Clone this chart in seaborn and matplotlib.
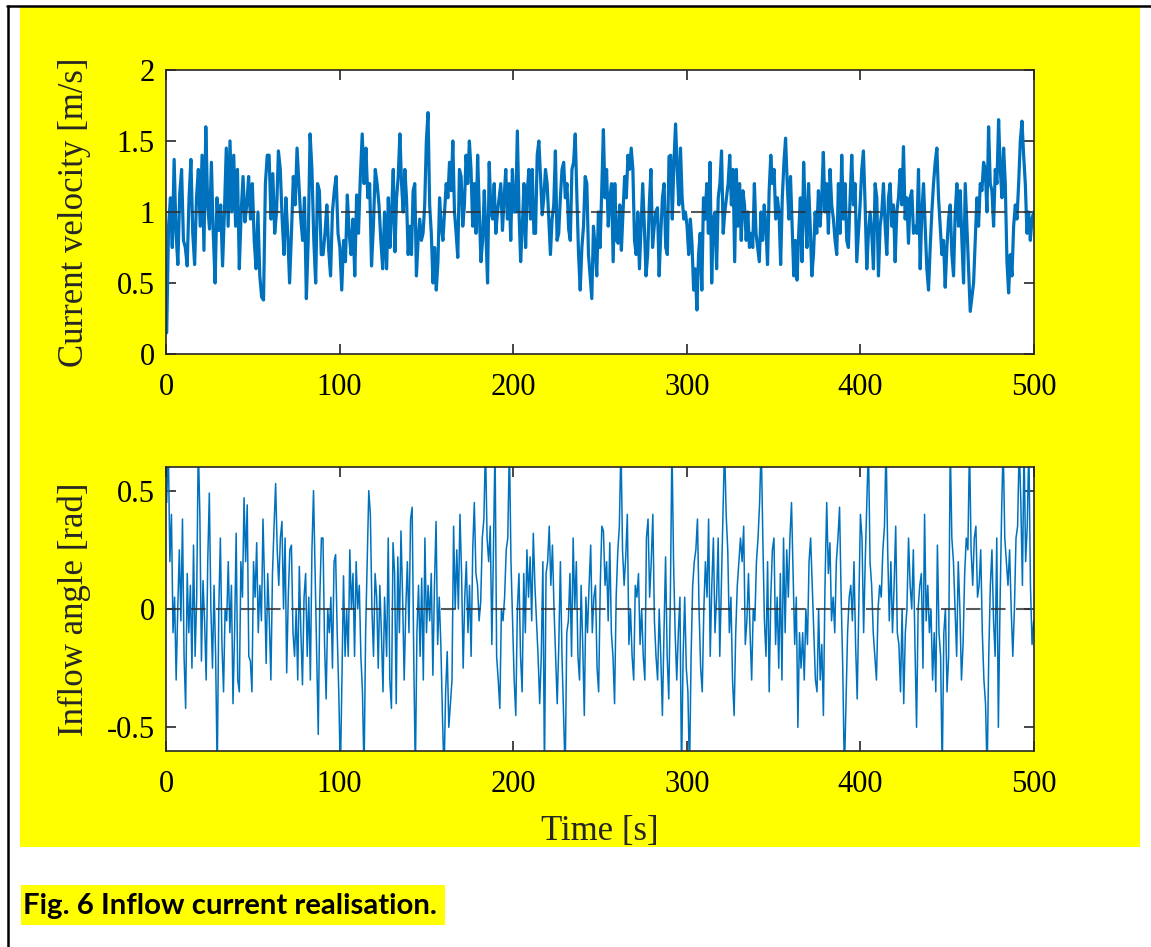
import numpy as np
import pandas as pd
import matplotlib
matplotlib.use("Agg")
import matplotlib.pyplot as plt
import seaborn as sns
from matplotlib.patches import Rectangle
from matplotlib.lines import Line2D

# ---------------- data ----------------
# Current velocity [m/s], four consecutive segments
speed_seg1 = [0.15, 0.9, 1.1, 0.75, 1.37, 0.85, 0.63, 1.13, 1.3, 0.8, 0.75, 0.62, 1.1, 1.37, 0.85, 0.63, 1.1, 1.3, 0.9, 1.4,
              0.73, 1.6, 1.05, 0.88, 1.35, 0.85, 0.5, 1.1, 0.87, 1.05, 0.62, 1.0, 1.45, 0.9, 1.5, 1.0, 1.4, 0.9, 1.3, 0.6,
              1.0, 1.25, 0.93, 1.05, 1.25, 0.95, 1.2, 0.8, 0.6, 1.0, 0.55, 0.4, 0.38, 1.2, 1.4, 1.4, 0.95, 1.27, 0.85, 1.0,
              1.43, 1.3, 0.95, 0.7, 1.1, 0.85, 0.5, 0.85, 1.25, 1.05, 1.45, 1.2, 0.95, 0.8, 1.1, 0.39, 0.8, 1.55, 1.3, 0.8,
              0.5, 1.2, 1.15, 0.7, 0.7, 0.85, 1.05, 0.73, 0.55, 1.0, 1.15, 1.25, 0.85, 0.75, 0.45, 0.8, 0.65, 1.12, 0.85, 0.7,
              0.95, 0.55, 1.12, 0.85, 1.25, 1.55, 1.2, 1.45, 1.1, 1.2, 0.62, 0.9, 1.3, 1.2, 1.05, 0.8, 0.6, 1.0]
speed_seg2 = [0.6, 1.1, 0.75, 1.0, 1.3, 0.72, 1.1, 1.25, 1.55, 1.2, 1.0, 1.3, 1.1, 0.7, 0.9, 0.7, 1.15, 1.2, 0.55, 0.8,
              0.95, 0.8, 0.85, 1.05, 1.5, 1.7, 1.05, 0.85, 0.5, 0.75, 0.45, 0.65, 1.1, 0.9, 0.8, 1.0, 1.2, 1.1, 1.35, 1.15,
              1.5, 1.0, 0.85, 0.68, 1.3, 1.25, 0.9, 1.05, 1.4, 1.2, 1.5, 1.3, 0.9, 1.2, 0.85, 1.4, 1.0, 0.65, 0.8, 1.15,
              0.85, 0.5, 1.35, 1.0, 0.95, 1.2, 0.85, 1.0, 1.1, 1.2, 0.87, 1.1, 1.3, 0.95, 1.2, 0.8, 1.3, 1.0, 1.0, 1.57,
              1.0, 0.65, 0.9, 1.2, 0.75, 1.15, 1.3, 0.95, 1.3, 0.85, 0.85, 1.4, 1.5, 1.25, 0.98, 1.1, 1.3, 1.2, 0.95, 0.7,
              0.95, 1.05, 1.43, 0.8, 0.85, 1.1, 1.3, 1.35, 1.1, 1.2, 0.88, 0.8, 1.3, 1.35, 1.55, 1.1, 0.7, 0.45, 0.75, 0.9,
              1.25, 1.2, 0.7, 0.55, 0.39, 0.9, 0.75, 0.55, 1.0, 0.75, 1.15, 1.58, 1.1]
speed_seg3 = [1.3, 0.9, 1.1, 1.2, 0.65, 1.2, 0.8, 0.78, 1.05, 0.73, 1.0, 1.25, 1.1, 1.4, 1.3, 1.45, 1.3, 0.8, 0.7, 1.0,
              0.6, 0.9, 1.2, 0.9, 0.55, 0.7, 1.05, 1.3, 0.75, 0.9, 1.0, 1.03, 0.55, 0.85, 1.1, 1.2, 0.75, 0.7, 1.39, 1.4,
              0.95, 1.35, 1.62, 1.3, 1.05, 1.45, 1.1, 0.95, 1.0, 0.9, 0.7, 0.95, 0.78, 0.45, 0.6, 0.31, 0.7, 0.85, 0.45, 1.1,
              0.95, 1.2, 0.85, 1.35, 0.5, 0.95, 1.0, 0.6, 1.1, 1.2, 1.43, 0.85, 1.0, 1.1, 1.2, 1.4, 1.05, 1.3, 0.65, 1.3,
              0.9, 1.2, 0.8, 1.15, 1.05, 0.8, 1.0, 0.75, 0.85, 0.75, 1.2, 0.85, 0.75, 0.65, 1.0, 0.8, 1.05, 0.9, 0.63, 1.15,
              1.4, 1.2, 1.3, 0.95, 1.1, 1.0, 0.63, 1.1, 1.35, 1.52, 1.2, 0.95, 1.25, 0.9, 0.55, 0.8, 0.52, 0.85, 1.1, 0.65,
              1.35, 1.0, 0.75, 1.2, 0.9, 0.55, 0.7, 1.0, 0.85, 1.15, 0.9, 1.1, 1.42, 1.0]
speed_seg4 = [1.2, 0.85, 1.3, 1.05, 0.95, 0.8, 0.7, 1.2, 0.85, 1.4, 0.95, 1.2, 0.8, 0.75, 1.1, 1.4, 1.05, 1.2, 0.65, 0.85,
              1.05, 1.3, 1.43, 1.05, 0.6, 0.85, 1.0, 0.85, 0.6, 1.2, 1.1, 0.55, 0.9, 1.0, 1.2, 0.9, 0.7, 1.1, 1.2, 0.9,
              1.05, 0.65, 1.0, 1.1, 1.3, 1.05, 1.46, 0.95, 1.1, 0.78, 1.1, 1.15, 0.85, 0.9, 0.85, 1.3, 0.6, 1.0, 1.2, 0.9,
              0.6, 0.45, 0.75, 1.0, 1.2, 1.35, 1.45, 1.1, 0.9, 0.7, 0.8, 0.47, 0.75, 0.95, 1.05, 0.7, 0.55, 1.0, 1.2, 0.9,
              1.15, 0.8, 0.5, 1.2, 0.9, 0.6, 0.3, 0.4, 0.5, 0.8, 1.1, 0.9, 1.2, 1.15, 1.35, 1.3, 1.0, 1.6, 1.2, 1.15,
              0.9, 1.3, 1.2, 1.65, 1.3, 1.1, 1.45, 1.2, 0.65, 0.43, 0.7, 0.55, 0.9, 1.05, 0.95, 1.2, 1.5, 1.64, 1.4, 1.2,
              0.85, 1.0, 0.8, 0.95, 1.0]

# Inflow angle [rad], four consecutive segments (spikes beyond the axis are cut off by the axes)
angle_seg1 = [0.45, 0.7, 0.2, 0.4, -0.1, 0.05, -0.3, 0.0, 0.25, -0.05, 0.38, -0.2, -0.42, 0.15, -0.1, 0.1, -0.25, 0.27, -0.2, 0.05,
              0.7, 0.4, -0.22, 0.12, -0.05, -0.3, 0.2, 0.49, 0.0, -0.25, 0.1, -0.2, -0.7, 0.0, 0.3, -0.15, -0.35, 0.0, -0.05, 0.2,
              -0.1, 0.1, -0.4, -0.1, 0.32, -0.3, -0.35, 0.2, 0.05, 0.47, 0.2, 0.44, -0.2, -0.22, -0.35, 0.2, 0.05, 0.28, -0.1, 0.1,
              -0.05, 0.38, 0.1, -0.23, 0.15, -0.05, -0.3, 0.15, 0.35, 0.53, 0.25, 0.1, 0.3, 0.37, 0.0, 0.3, -0.27, 0.05, 0.25, 0.27,
              -0.1, -0.2, 0.0, -0.3, 0.18, -0.1, -0.32, 0.05, 0.15, -0.2, 0.05, -0.3, 0.25, 0.5, 0.15, -0.2, -0.53, 0.05, 0.3, 0.3,
              -0.15, -0.38, 0.0, -0.1, 0.05, -0.25, 0.2, 0.23, -0.1, -0.35, -0.7, -0.3, 0.14, -0.2, 0.0, -0.2, 0.25, 0.0, 0.15, -0.2,
              0.2, 0.0, 0.1, -0.2, -0.35, -0.7, -0.1, 0.2, 0.5, 0.4, 0.0, -0.2, 0.15, 0.05, -0.25, 0.1, -0.1, -0.35, 0.05]
angle_seg2 = [-0.2, 0.3, -0.3, -0.42, 0.28, 0.15, -0.4, 0.22, -0.1, 0.33, 0.05, -0.3, 0.0, 0.2, -0.1, 0.38, 0.43, -0.2, -0.7, -0.1,
              0.1, -0.2, 0.13, -0.3, 0.3, -0.1, 0.1, -0.05, 0.15, -0.28, 0.1, 0.37, -0.15, 0.05, -0.15, -0.45, -0.7, -0.35, -0.18, -0.5,
              -0.4, -0.3, 0.35, 0.0, 0.25, 0.0, 0.4, 0.15, -0.25, 0.05, 0.2, -0.1, 0.1, -0.2, 0.25, 0.45, 0.15, 0.1, -0.05, 0.03,
              0.3, 0.38, 0.7, 0.3, 0.2, 0.35, -0.15, 0.25, 0.7, -0.2, -0.3, -0.42, 0.0, -0.05, 0.05, 0.25, 0.3, 0.7, 0.2, -0.05,
              -0.3, -0.45, 0.0, 0.15, -0.2, -0.35, 0.15, -0.1, 0.25, 0.05, 0.22, -0.05, 0.32, 0.1, -0.05, -0.2, -0.4, -0.2, 0.2, -0.7,
              0.15, 0.2, 0.35, 0.1, 0.27, 0.0, -0.2, -0.4, -0.15, 0.2, -0.2, -0.45, -0.7, -0.1, -0.05, 0.15, -0.2, 0.3, 0.0, 0.2,
              -0.2, -0.3, 0.1, -0.15, -0.45, 0.05, -0.1, 0.1, 0.27, -0.1, 0.05, 0.1, -0.25, -0.35, 0.1, 0.35, 0.33, 0.1]
angle_seg3 = [0.2, -0.05, 0.28, -0.1, -0.2, -0.4, 0.05, 0.24, 0.35, 0.7, 0.25, 0.1, 0.22, 0.4, -0.15, 0.0, -0.2, -0.3, 0.1, 0.05,
              0.15, -0.15, 0.0, -0.2, -0.3, 0.3, 0.38, 0.05, 0.2, 0.4, -0.05, -0.2, -0.3, 0.0, -0.2, -0.45, -0.1, 0.22, -0.2, -0.38,
              0.05, 0.7, 0.2, -0.1, -0.3, -0.1, 0.05, -0.7, -0.2, 0.05, -0.25, -0.35, -0.7, -0.2, 0.1, 0.2, 0.25, 0.38, 0.0, -0.25,
              -0.35, 0.0, 0.2, 0.05, 0.38, -0.2, 0.1, 0.3, -0.1, 0.05, 0.3, -0.2, 0.1, 0.4, 0.7, 0.4, 0.25, -0.1, 0.05, -0.3,
              -0.45, -0.1, 0.1, 0.2, 0.3, 0.2, 0.35, -0.15, -0.05, 0.15, -0.1, -0.3, 0.0, -0.05, 0.2, 0.3, 0.45, 0.7, 0.3, -0.05,
              -0.2, 0.2, -0.35, 0.05, 0.25, 0.3, -0.15, 0.05, -0.25, 0.15, -0.3, 0.3, -0.1, 0.25, 0.05, 0.3, 0.45, 0.15, -0.15, 0.05,
              -0.5, -0.1, -0.25, -0.1, -0.3, 0.0, -0.15, 0.2, 0.3, 0.1, -0.1, -0.3, -0.35, 0.0, -0.3, -0.15, -0.45, 0.1]
angle_seg4 = [0.45, 0.15, 0.28, -0.05, 0.05, -0.1, 0.2, 0.3, 0.43, 0.05, -0.25, -0.7, -0.4, -0.1, 0.05, 0.1, -0.05, 0.2, -0.15, -0.38,
              0.0, 0.4, 0.3, -0.1, 0.2, 0.45, 0.7, 0.2, 0.1, -0.1, -0.2, -0.3, 0.0, 0.1, 0.05, 0.25, 0.35, 0.7, 0.25, -0.05,
              0.2, -0.1, 0.1, 0.35, -0.1, -0.15, -0.35, 0.0, -0.4, -0.1, 0.0, 0.3, 0.1, 0.0, 0.25, -0.15, -0.5, 0.0, 0.1, 0.15,
              -0.25, 0.4, -0.05, 0.1, -0.1, 0.0, -0.3, -0.1, -0.35, 0.27, -0.1, -0.2, -0.7, -0.1, 0.0, -0.35, -0.2, 0.7, 0.3, 0.2,
              0.0, -0.2, 0.2, 0.0, -0.3, -0.15, 0.15, 0.3, 0.25, 0.7, 0.25, 0.1, 0.3, 0.35, 0.05, 0.1, 0.25, -0.1, -0.3, -0.4,
              -0.7, -0.2, 0.1, 0.25, -0.05, -0.2, 0.3, -0.5, 0.0, 0.4, 0.7, 0.3, 0.2, 0.1, 0.25, 0.0, -0.2, 0.0, 0.3, 0.35,
              0.7, 0.45, 0.1, 0.7, 0.2, 0.35, 0.7, 0.1, -0.15, -0.05]

# time span [s] covered by each segment
seg_spans = [(0.4, 125.9), (127.1, 252.9), (253.8, 379.6), (380.6, 499.8)]

speed_mean = 1.0
angle_mean = 0.0

x_ticks = [0, 100, 200, 300, 400, 500]
speed_ticks = [0, 0.5, 1, 1.5, 2]
speed_ticklabels = ["0", "0.5", "1", "1.5", "2"]
angle_ticks = [-0.5, 0, 0.5]
angle_ticklabels = ["-0.5", "0", "0.5"]

speed_label = "Current velocity [m/s]"
angle_label = "Inflow angle [rad]"
time_label = "Time [s]"
caption = "Fig. 6 Inflow current realisation."


def build(segs):
    ts, vs = [], []
    for (a, b), seg in zip(seg_spans, segs):
        ts.append(np.linspace(a, b, len(seg)))
        vs.append(np.asarray(seg, dtype=float))
    return pd.DataFrame({"t": np.concatenate(ts), "v": np.concatenate(vs)})


speed_df = build([speed_seg1, speed_seg2, speed_seg3, speed_seg4])
angle_df = build([angle_seg1, angle_seg2, angle_seg3, angle_seg4])

# ---------------- style ----------------
sns.set_style("ticks")
plt.rcParams["font.family"] = ["Liberation Serif", "DejaVu Serif"]
plt.rcParams["axes.unicode_minus"] = False

W, H = 1151, 947
fig = plt.figure(figsize=(W / 100, H / 100), dpi=100)
fig.patch.set_facecolor("white")

# yellow background panel and page border
fig.add_artist(Rectangle((20 / W, 1 - 847 / H), 1120 / W, 840 / H, transform=fig.transFigure,
                         facecolor="#FFFF00", edgecolor="none", zorder=0))
fig.add_artist(Line2D([7 / W, 1], [1 - 6 / H, 1 - 6 / H], transform=fig.transFigure, color="black", lw=1.8))
fig.add_artist(Line2D([8 / W, 8 / W], [0, 1 - 6 / H], transform=fig.transFigure, color="black", lw=1.8))

BLUE = "#0072BD"
AX = "#262626"


def style_axes(ax):
    ax.set_facecolor("white")
    for s in ax.spines.values():
        s.set_color(AX)
        s.set_linewidth(1.2)
        s.set_visible(True)
    ax.tick_params(direction="in", length=7, width=1.2, colors=AX, labelcolor="black",
                   top=True, right=True, labelsize=22, pad=8)
    ax.tick_params(axis="x", pad=14)
    ax.set_xlim(0, 500)
    ax.set_xticks(x_ticks)
    ax.set_xticklabels([str(v) for v in x_ticks])


# top panel
ax1 = fig.add_axes([166 / W, 1 - 354 / H, 868 / W, 284 / H])
sns.lineplot(data=speed_df, x="t", y="v", ax=ax1, color=BLUE, linewidth=2.3,
             estimator=None, sort=False)
ax1.axhline(speed_mean, color="#303030", alpha=0.8, lw=1.5, ls=(0, (7, 5)), zorder=5)
style_axes(ax1)
ax1.set_ylim(0, 2)
ax1.set_yticks(speed_ticks)
ax1.set_yticklabels(speed_ticklabels)
ax1.set_xlabel("")
ax1.set_ylabel(speed_label, fontsize=25)

# bottom panel
ax2 = fig.add_axes([166 / W, 1 - 751 / H, 868 / W, 284 / H])
sns.lineplot(data=angle_df, x="t", y="v", ax=ax2, color=BLUE, linewidth=1.1,
             estimator=None, sort=False)
ax2.axhline(angle_mean, color="#303030", alpha=0.8, lw=1.5, ls=(0, (7, 5)), zorder=5)
style_axes(ax2)
ax2.set_ylim(-0.6, 0.6)
ax2.set_yticks(angle_ticks)
ax2.set_yticklabels(angle_ticklabels)
ax2.set_xlabel(time_label, fontsize=25, labelpad=11)
ax2.set_ylabel(angle_label, fontsize=25)

# align y labels horizontally
for ax in (ax1, ax2):
    ax.yaxis.set_label_coords(-75 / 868, 0.5)

# caption with highlight
fig.add_artist(Rectangle((21 / W, 1 - 925 / H), 424 / W, 40 / H, transform=fig.transFigure,
                         facecolor="#FFFF00", edgecolor="none", zorder=0))
fig.text(23 / W, 1 - 906 / H, caption, fontsize=21.2, fontweight="bold",
         family=["Lato", "DejaVu Sans"], va="center", ha="left", color="black")

fig.savefig("out.png", dpi=100, facecolor="white")
